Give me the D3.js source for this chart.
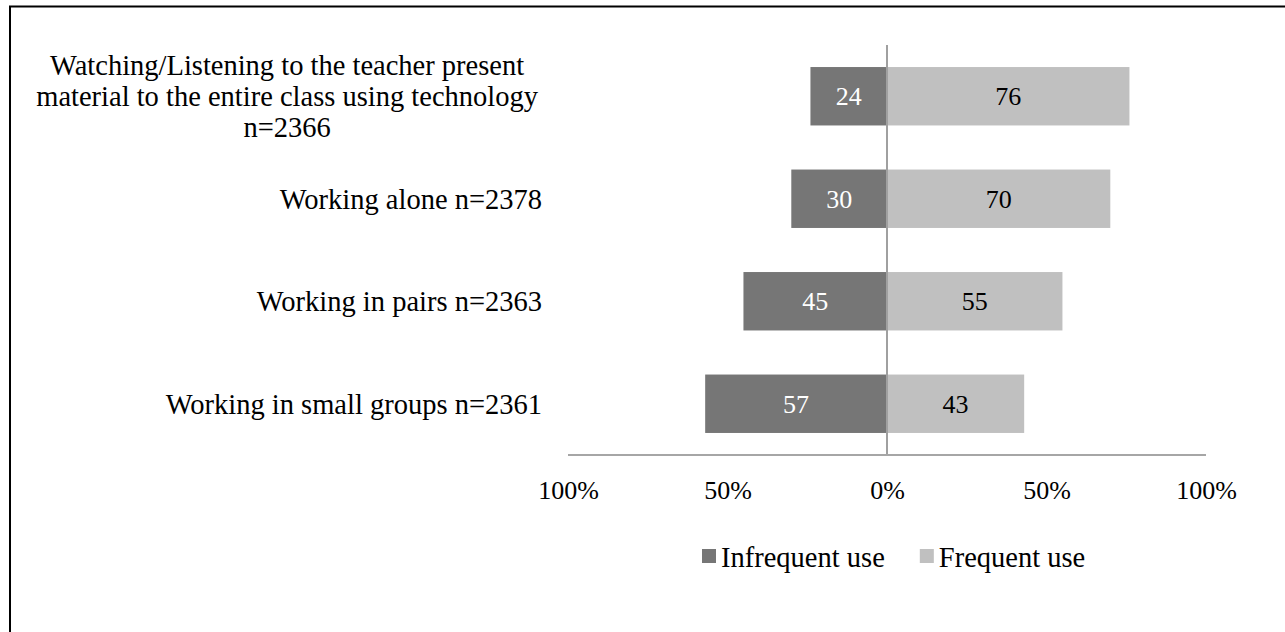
<!DOCTYPE html>
<html lang="en">
<head>
<meta charset="utf-8">
<title>Technology use by classroom activity</title>
<script src="https://d3js.org/d3.v7.min.js"></script>
<style>
  body { margin: 0; background: #fff; }
  svg text { font-family: "Liberation Serif", "DejaVu Serif", serif; }
</style>
</head>
<body>
<div id="my_dataviz"></div>
<script>

// category labels (one entry per line of the label)
var categories = [
  ["Watching/Listening to the teacher present", "material to the entire class using technology", "n=2366"],
  ["Working alone n=2378"],
  ["Working in pairs n=2363"],
  ["Working in small groups n=2361"]
];
var infrequent = [24, 30, 45, 57];
var frequent = [76, 70, 55, 43];
var tickValues = [-100, -50, 0, 50, 100];
var seriesNames = ["Infrequent use", "Frequent use"];
var seriesColors = ["#767676", "#c0c0c0"];

var W = 1285, H = 632;
var numSize = 26;     // numbers (bar values, ticks)
var wordSize = 28.5;  // category + legend text

var svg = d3.select("#my_dataviz")
  .append("svg")
    .attr("width", W)
    .attr("height", H);

// frame (top and left edges only)
svg.append("path")
  .attr("d", "M10,632 V6.5 H1285")
  .attr("fill", "none")
  .attr("stroke", "#000")
  .attr("stroke-width", 2);

var x = d3.scaleLinear()
  .domain([-100, 100])
  .range([568, 1206]);

var y = d3.scaleBand()
  .domain(d3.range(categories.length))
  .range([45, 455])
  .paddingInner(0.43)
  .paddingOuter(0.215);

var rows = svg.append("g").selectAll("g")
  .data(d3.range(categories.length))
  .enter().append("g");

// infrequent to the left of zero, frequent to the right
rows.append("rect")
  .attr("x", function(i) { return x(-infrequent[i]); })
  .attr("y", function(i) { return y(i); })
  .attr("width", function(i) { return x(0) - x(-infrequent[i]); })
  .attr("height", y.bandwidth())
  .attr("fill", seriesColors[0]);

rows.append("rect")
  .attr("x", x(0))
  .attr("y", function(i) { return y(i); })
  .attr("width", function(i) { return x(frequent[i]) - x(0); })
  .attr("height", y.bandwidth())
  .attr("fill", seriesColors[1]);

// value labels
rows.append("text")
  .attr("x", function(i) { return x(-infrequent[i] / 2); })
  .attr("y", function(i) { return y(i) + y.bandwidth() / 2; })
  .attr("dy", "0.35em")
  .attr("text-anchor", "middle")
  .attr("font-size", numSize)
  .attr("fill", "#fff")
  .text(function(i) { return infrequent[i]; });

rows.append("text")
  .attr("x", function(i) { return x(frequent[i] / 2); })
  .attr("y", function(i) { return y(i) + y.bandwidth() / 2; })
  .attr("dy", "0.35em")
  .attr("text-anchor", "middle")
  .attr("font-size", numSize)
  .attr("fill", "#000")
  .text(function(i) { return frequent[i]; });

// zero line and bottom axis line
svg.append("line")
  .attr("x1", x(0)).attr("x2", x(0))
  .attr("y1", 45).attr("y2", 455)
  .attr("stroke", "#a0a0a0")
  .attr("stroke-width", 2);

svg.append("line")
  .attr("x1", x(-100)).attr("x2", x(100))
  .attr("y1", 455).attr("y2", 455)
  .attr("stroke", "#a6a6a6")
  .attr("stroke-width", 2);

// tick labels
var axis = svg.append("g")
  .attr("transform", "translate(0,455)")
  .call(d3.axisBottom(x)
    .tickValues(tickValues)
    .tickSize(0)
    .tickPadding(26)
    .tickFormat(function(d) { return Math.abs(d) + "%"; }));
axis.select(".domain").remove();
axis.selectAll("text")
  .attr("font-size", numSize)
  .attr("font-family", "Liberation Serif")
  .attr("fill", "#000");

// category labels: single lines end at labelRight, wrapped ones are centred
var labelRight = 542;
var wrapRight = 538;
var lineH = 31;
var cats = svg.append("g");
categories.forEach(function(lines, i) {
  var cy = y(i) + y.bandwidth() / 2;
  var t = cats.append("text")
    .attr("font-size", wordSize)
    .attr("fill", "#000");
  lines.forEach(function(line, k) {
    t.append("tspan")
      .attr("y", cy + (k - (lines.length - 1) / 2) * lineH)
      .attr("dy", "0.35em")
      .text(line);
  });
  if (lines.length == 1) {
    t.attr("text-anchor", "end").selectAll("tspan").attr("x", labelRight);
  } else {
    var w = d3.max(t.selectAll("tspan").nodes(), function(n) { return n.getComputedTextLength(); });
    t.attr("text-anchor", "middle").selectAll("tspan").attr("x", wrapRight - w / 2);
  }
});

// legend
var legend = svg.append("g");
var lx = 702;
seriesNames.forEach(function(name, i) {
  legend.append("rect")
    .attr("x", lx).attr("y", 549)
    .attr("width", 14).attr("height", 14)
    .attr("fill", seriesColors[i]);
  var t = legend.append("text")
    .attr("x", lx + 19).attr("y", 567)
    .attr("font-size", wordSize)
    .text(name);
  lx += 19 + t.node().getComputedTextLength() + 35;
});

</script>
</body>
</html>
